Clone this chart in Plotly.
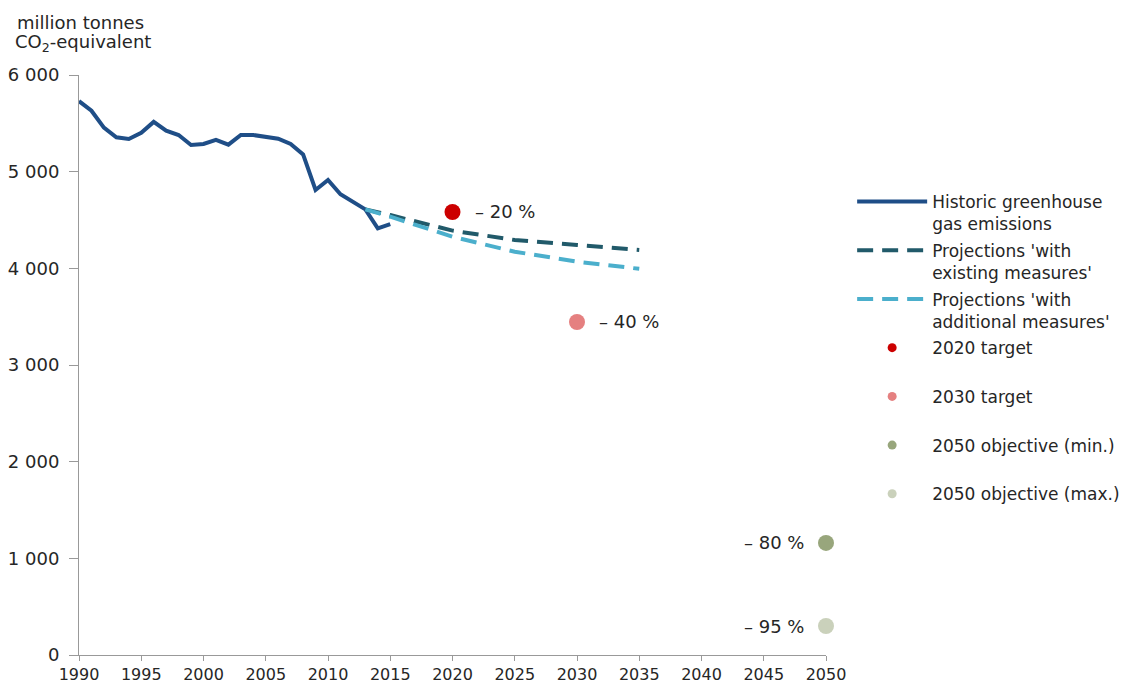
import plotly.graph_objects as go

hist_years = list(range(1990, 2016))
hist_values = [5730, 5630, 5455, 5355, 5338, 5403, 5515, 5424, 5379, 5276, 5286, 5328,
               5279, 5379, 5379, 5355, 5341, 5286, 5179, 4810, 4914, 4766, 4690, 4610,
               4414, 4458]

proj_years = [2013, 2015, 2020, 2025, 2030, 2035]
wem_values = [4610, 4551, 4390, 4293, 4241, 4190]
wam_values = [4610, 4534, 4327, 4172, 4069, 3995]

target_years = [2020, 2030, 2050, 2050]
target_values = [4583, 3445, 1159, 300]
target_names = ["2020 target", "2030 target", "2050 objective (min.)", "2050 objective (max.)"]
target_labels = ["– 20 %", "– 40 %", "– 80 %", "– 95 %"]

y_ticks = [0, 1000, 2000, 3000, 4000, 5000, 6000]
y_tick_text = ["0", "1 000", "2 000", "3 000", "4 000", "5 000", "6 000"]
x_ticks = list(range(1990, 2051, 5))

c_hist = "#1f4e87"
c_wem = "#215a6a"
c_wam = "#4bafcc"
c_targets = ["#cc0000", "#e58080", "#98a67c", "#cad1bb"]

FONT = "DejaVu Sans"
TXT = "#262626"

fig = go.Figure()
fig.add_trace(go.Scatter(x=hist_years, y=hist_values, mode="lines",
                         line=dict(color=c_hist, width=4), legendgroup="g1",
                         name="Historic greenhouse<br>gas emissions"))
fig.add_trace(go.Scatter(x=proj_years, y=wem_values, mode="lines",
                         line=dict(color=c_wem, width=4, dash="16px,9px"), legendgroup="g2",
                         name="Projections 'with<br>existing measures'"))
fig.add_trace(go.Scatter(x=proj_years, y=wam_values, mode="lines",
                         line=dict(color=c_wam, width=4, dash="16px,9px"), legendgroup="g3",
                         name="Projections 'with<br>additional measures'"))

for i, (yr, val, nm, col) in enumerate(zip(target_years, target_values, target_names, c_targets)):
    fig.add_trace(go.Scatter(x=[yr], y=[val], mode="markers", cliponaxis=False,
                             marker=dict(color=col, size=16), showlegend=False,
                             hoverinfo="x+y"))
    fig.add_trace(go.Scatter(x=[None], y=[None], mode="markers",
                             marker=dict(color=col, size=9), legendgroup="t%d" % i,
                             name=nm + "<br> "))

for yr, val, lab in zip(target_years, target_values, target_labels):
    if yr == 2050:
        fig.add_annotation(x=yr, y=val, text=lab, showarrow=False, xanchor="right",
                           xshift=-20, font=dict(family=FONT, size=18, color=TXT))
    else:
        fig.add_annotation(x=yr, y=val, text=lab, showarrow=False, xanchor="left",
                           xshift=20, font=dict(family=FONT, size=18, color=TXT))

fig.add_annotation(xref="paper", yref="paper", x=-0.086, y=1.091, xanchor="left",
                   yanchor="middle", showarrow=False, align="left",
                   text="million tonnes", font=dict(family=FONT, size=18, color=TXT))
fig.add_annotation(xref="paper", yref="paper", x=-0.089, y=1.055, xanchor="left",
                   yanchor="middle", showarrow=False, align="left",
                   text="CO<sub>2</sub>-equivalent", font=dict(family=FONT, size=18, color=TXT))

fig.update_layout(
    width=1125, height=675,
    margin=dict(l=71, r=307, t=67, b=28, autoexpand=False),
    paper_bgcolor="white", plot_bgcolor="white",
    font=dict(family=FONT, size=17, color=TXT),
    showlegend=True,
    legend=dict(x=1.035, y=0.812, xanchor="left", yanchor="top",
                valign="top", font=dict(family=FONT, size=17, color=TXT),
                tracegroupgap=1.5, itemwidth=70, bgcolor="rgba(0,0,0,0)"),
    xaxis=dict(range=[1990, 2050], tickvals=x_ticks, showgrid=False, zeroline=False,
               showline=True, linecolor="#999999", linewidth=1, automargin=False,
               ticks="outside", tickcolor="#999999", ticklen=5,
               tickfont=dict(family=FONT, size=16, color=TXT)),
    yaxis=dict(range=[0, 6000], tickvals=y_ticks, ticktext=y_tick_text, showgrid=False,
               zeroline=False, showline=True, linecolor="#999999", linewidth=1,
               automargin=False, ticklabelstandoff=6,
               ticks="outside", tickcolor="#999999", ticklen=9,
               tickfont=dict(family=FONT, size=18, color=TXT)),
)

fig.write_html("out.html")
